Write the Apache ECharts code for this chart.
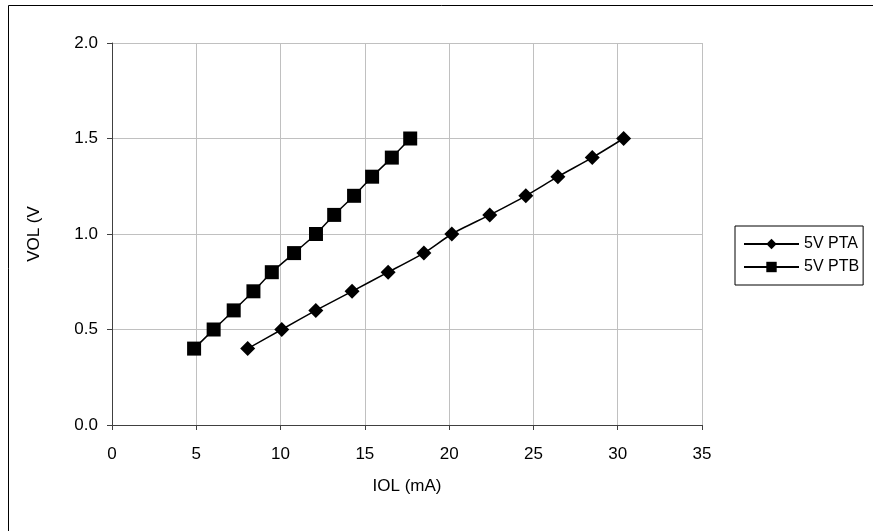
<!DOCTYPE html>
<html>
<head>
<meta charset="utf-8">
<script src="https://cdn.jsdelivr.net/npm/echarts@6/dist/echarts.min.js"></script>
<style>
html,body{margin:0;padding:0;background:#fff;}
#c{width:873px;height:531px;}
</style>
</head>
<body>
<div id="c"></div>
<script>
var seriesNames = ['5V PTA', '5V PTB'];
var ptaIOL = [8.05, 10.07, 12.09, 14.24, 16.38, 18.5, 20.16, 22.41, 24.55, 26.45, 28.49, 30.35];
var ptaVOL = [0.4, 0.5, 0.6, 0.7, 0.8, 0.9, 1.0, 1.1, 1.2, 1.3, 1.4, 1.5];
var ptbIOL = [4.87, 6.03, 7.22, 8.39, 9.48, 10.8, 12.1, 13.18, 14.36, 15.43, 16.6, 17.69];
var ptbVOL = [0.4, 0.5, 0.6, 0.7, 0.8, 0.9, 1.0, 1.1, 1.2, 1.3, 1.4, 1.5];
var xTitle = 'IOL (mA)';
var yTitle = 'VOL (V';

function pairs(xs, ys) { return xs.map(function (x, i) { return [x, ys[i]]; }); }

var font = 'Liberation Sans, Arial, sans-serif';
var axisFont = 17;
var chart = echarts.init(document.getElementById('c'), null, {renderer: 'canvas'});
chart.setOption({
  animation: false,
  backgroundColor: '#fff',
  textStyle: {fontFamily: font},
  graphic: [{
    type: 'rect', silent: true,
    shape: {x: 8.5, y: 5.5, width: 1000, height: 1000},
    style: {fill: 'none', stroke: '#000', lineWidth: 1}
  }],
  grid: {left: 112, top: 43, right: 171, bottom: 106},
  legend: {
    orient: 'vertical', left: 735, top: 226,
    borderColor: '#000', borderWidth: 1, padding: [10, 4, 10, 8],
    itemWidth: 55, itemHeight: 13, itemGap: 7,
    textStyle: {fontFamily: font, fontSize: 16, color: '#000'},
    data: seriesNames
  },
  xAxis: {
    type: 'value', min: 0, max: 35, interval: 5,
    name: xTitle, nameLocation: 'middle', nameGap: 53,
    nameTextStyle: {fontFamily: font, fontSize: axisFont, color: '#000'},
    axisLine: {show: true, onZero: false, lineStyle: {color: '#404040', width: 1}},
    axisTick: {show: true, length: 5, lineStyle: {color: '#404040'}},
    axisLabel: {margin: 21, fontFamily: font, fontSize: axisFont, color: '#000'},
    splitLine: {show: true, lineStyle: {color: '#c0c0c0', width: 1}}
  },
  yAxis: {
    type: 'value', min: 0, max: 2, interval: 0.5,
    name: yTitle, nameLocation: 'middle', nameGap: 69, nameRotate: 90,
    nameTextStyle: {fontFamily: font, fontSize: axisFont, color: '#000'},
    axisLine: {show: true, onZero: false, lineStyle: {color: '#404040', width: 1}},
    axisTick: {show: true, length: 5, lineStyle: {color: '#404040'}},
    axisLabel: {margin: 14, fontFamily: font, fontSize: axisFont, color: '#000',
      formatter: function (v) { return v.toFixed(1); }},
    splitLine: {show: true, lineStyle: {color: '#c0c0c0', width: 1}}
  },
  series: [{
    name: seriesNames[0], type: 'line', smooth: 0.2,
    data: pairs(ptaIOL, ptaVOL),
    symbol: 'diamond', symbolSize: 15,
    lineStyle: {color: '#000', width: 1.5},
    itemStyle: {color: '#000'}
  }, {
    name: seriesNames[1], type: 'line', smooth: 0.2,
    data: pairs(ptbIOL, ptbVOL),
    symbol: 'rect', symbolSize: 14,
    lineStyle: {color: '#000', width: 1.5},
    itemStyle: {color: '#000'}
  }]
});
</script>
</body>
</html>
